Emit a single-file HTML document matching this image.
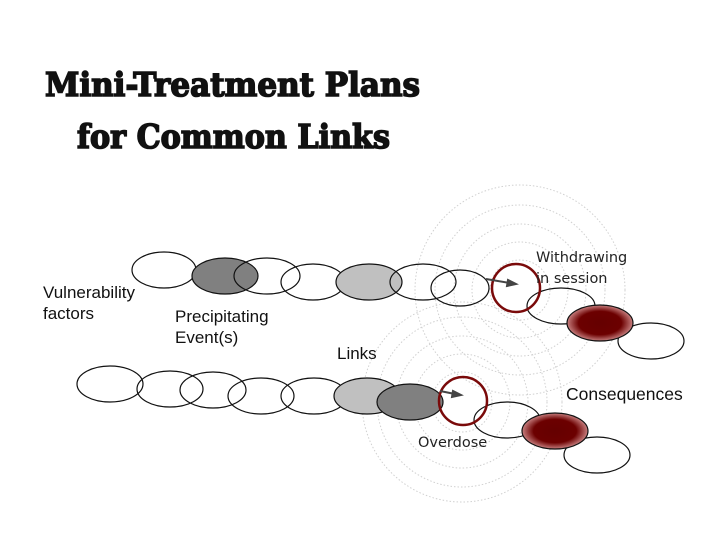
<!DOCTYPE html>
<html><head><meta charset="utf-8"><style>
html,body{margin:0;padding:0;background:#fff;}
body{width:720px;height:540px;overflow:hidden;position:relative;}
svg{position:absolute;left:0;top:0;}
</style></head><body>
<svg width="720" height="540" viewBox="0 0 720 540" xmlns="http://www.w3.org/2000/svg">
<defs>
<radialGradient id="rg" cx="50%" cy="50%" r="50%">
<stop offset="0" stop-color="#650000"/><stop offset="0.65" stop-color="#6c0000"/><stop offset="1" stop-color="#c88080"/>
</radialGradient>
</defs>
<g fill="none" stroke="#d0d0d0" stroke-width="1" stroke-dasharray="1.5,2">
<circle cx="520" cy="290" r="30"/><circle cx="520" cy="290" r="48"/><circle cx="520" cy="290" r="66"/><circle cx="520" cy="290" r="85"/><circle cx="520" cy="290" r="105"/>
<circle cx="462" cy="402" r="30"/><circle cx="462" cy="402" r="48"/><circle cx="462" cy="402" r="66"/><circle cx="462" cy="402" r="85"/><circle cx="462" cy="402" r="100"/>
</g>
<g font-family="'DejaVu Serif',serif" font-weight="bold" fill="#111" stroke="#111" stroke-width="1.6">
<text font-size="33" x="45" y="96" textLength="375" lengthAdjust="spacingAndGlyphs">Mini-Treatment Plans</text>
<text font-size="33" x="77" y="148" textLength="313" lengthAdjust="spacingAndGlyphs">for Common Links</text>
</g>
<g stroke="#111" stroke-width="1.2">
<ellipse cx="164" cy="270" rx="32" ry="18" fill="#fff"/>
<ellipse cx="225" cy="276" rx="33" ry="18" fill="#808080"/>
<ellipse cx="267" cy="276" rx="33" ry="18" fill="none"/>
<ellipse cx="313" cy="282" rx="32" ry="18" fill="none"/>
<ellipse cx="369" cy="282" rx="33" ry="18" fill="#c0c0c0"/>
<ellipse cx="423" cy="282" rx="33" ry="18" fill="none"/>
<ellipse cx="460" cy="288" rx="29" ry="18" fill="none"/>
<ellipse cx="561" cy="306" rx="34" ry="18" fill="none"/>
<ellipse cx="651" cy="341" rx="33" ry="18" fill="#fff"/>
<ellipse cx="600" cy="323" rx="33" ry="18" fill="url(#rg)"/>
<ellipse cx="110" cy="384" rx="33" ry="18" fill="none"/>
<ellipse cx="170" cy="389" rx="33" ry="18" fill="none"/>
<ellipse cx="213" cy="390" rx="33" ry="18" fill="none"/>
<ellipse cx="261" cy="396" rx="33" ry="18" fill="none"/>
<ellipse cx="314" cy="396" rx="33" ry="18" fill="none"/>
<ellipse cx="367" cy="396" rx="33" ry="18" fill="#c0c0c0"/>
<ellipse cx="410" cy="402" rx="33" ry="18" fill="#808080"/>
<ellipse cx="507" cy="420" rx="33" ry="18" fill="none"/>
<ellipse cx="597" cy="455" rx="33" ry="18" fill="#fff"/>
<ellipse cx="555" cy="431" rx="33" ry="18" fill="url(#rg)"/>
</g>
<circle cx="516" cy="288" r="24" fill="none" stroke="#7a0a0a" stroke-width="2.5"/>
<circle cx="463" cy="401" r="24" fill="none" stroke="#7a0a0a" stroke-width="2.5"/>
<g stroke="#444" stroke-width="2" fill="#444">
<line x1="486" y1="279" x2="510" y2="283"/><polygon points="516,284 508,280 507,286"/>
<line x1="440" y1="391" x2="455" y2="394"/><polygon points="461,395 453,391 452,397"/>
</g>
<g font-family="'Liberation Sans',sans-serif" font-size="17" fill="#111">
<text x="43" y="298">Vulnerability</text><text x="43" y="319">factors</text>
<text x="175" y="322">Precipitating</text><text x="175" y="343">Event(s)</text>
<text x="337" y="359">Links</text>
<text x="566" y="400" font-size="17.5">Consequences</text>
</g>
<g font-family="'DejaVu Sans',sans-serif" font-size="14.5" fill="#222">
<text x="536" y="262">Withdrawing</text><text x="536" y="283">in session</text>
<text x="418" y="447">Overdose</text>
</g>
</svg>
</body></html>
